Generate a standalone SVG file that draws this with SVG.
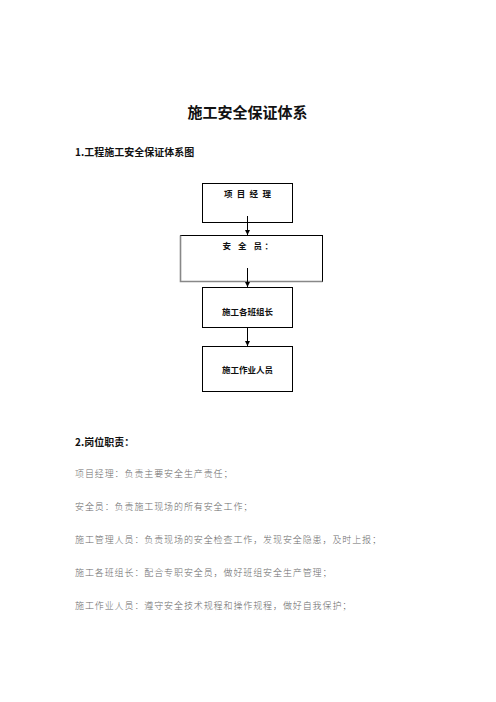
<svg xmlns="http://www.w3.org/2000/svg" width="496" height="702" viewBox="0 0 496 702">
<defs>
<style>
.title{font-family:"Noto Sans CJK SC",sans-serif;font-weight:700;font-size:15px;fill:#111}
.h{font-family:"Noto Sans CJK SC",sans-serif;font-weight:700;font-size:10px;fill:#111}
.bx{font-family:"Noto Sans CJK SC",sans-serif;font-weight:700;font-size:8.5px;fill:#111;text-anchor:middle}
.body{font-family:"Noto Sans CJK SC",sans-serif;font-weight:300;font-size:9px;fill:#6a6a6a;letter-spacing:0.9px}
.box{fill:#fff;stroke:#000;stroke-width:1}
.conn{stroke:#000;stroke-width:1;fill:none}
</style>
<marker id="ah" viewBox="0 0 10 10" refX="10" refY="5" markerWidth="5" markerHeight="5" orient="auto" markerUnits="userSpaceOnUse">
<path d="M0,0 L10,5 L0,10 Z" fill="#000"/>
</marker>
</defs>
<rect width="496" height="702" fill="#fff"/>
<text class="title" x="247.5" y="118" text-anchor="middle">施工安全保证体系</text>
<text class="h" x="75" y="156">1.工程施工安全保证体系图</text>

<g id="n1">
<rect class="box" x="202.5" y="183.5" width="90" height="39"/>
<text class="bx" x="248" y="197" letter-spacing="1.2">项 目 经 理</text>
</g>
<g id="n2">
<rect class="box" x="180.5" y="235.5" width="142" height="46"/>
<path d="M180.5,235.5 V281.5 H322.5" stroke="#888" stroke-width="1.6" fill="none"/>
<text class="bx" x="249" y="249" letter-spacing="2.5">安  全  员：</text>
</g>
<g id="n3">
<rect class="box" x="202.5" y="287.5" width="90" height="40"/>
<text class="bx" x="247.5" y="315">施工各班组长</text>
</g>
<g id="n4">
<rect class="box" x="202.5" y="346.5" width="90" height="45"/>
<text class="bx" x="247.5" y="373">施工作业人员</text>
</g>

<g id="connectors">
<line class="conn" x1="247.5" y1="216" x2="247.5" y2="235" marker-end="url(#ah)"/>
<line class="conn" x1="247.5" y1="268" x2="247.5" y2="287" marker-end="url(#ah)"/>
<line class="conn" x1="247.5" y1="328" x2="247.5" y2="346" marker-end="url(#ah)"/>
</g>

<text class="h" x="75" y="446">2.岗位职责：</text>
<text class="body" x="75" y="477">项目经理：负责主要安全生产责任；</text>
<text class="body" x="75" y="510">安全员：负责施工现场的所有安全工作；</text>
<text class="body" x="75" y="543">施工管理人员：负责现场的安全检查工作，发现安全隐患，及时上报；</text>
<text class="body" x="75" y="576">施工各班组长：配合专职安全员，做好班组安全生产管理；</text>
<text class="body" x="75" y="609">施工作业人员：遵守安全技术规程和操作规程，做好自我保护；</text>
</svg>
